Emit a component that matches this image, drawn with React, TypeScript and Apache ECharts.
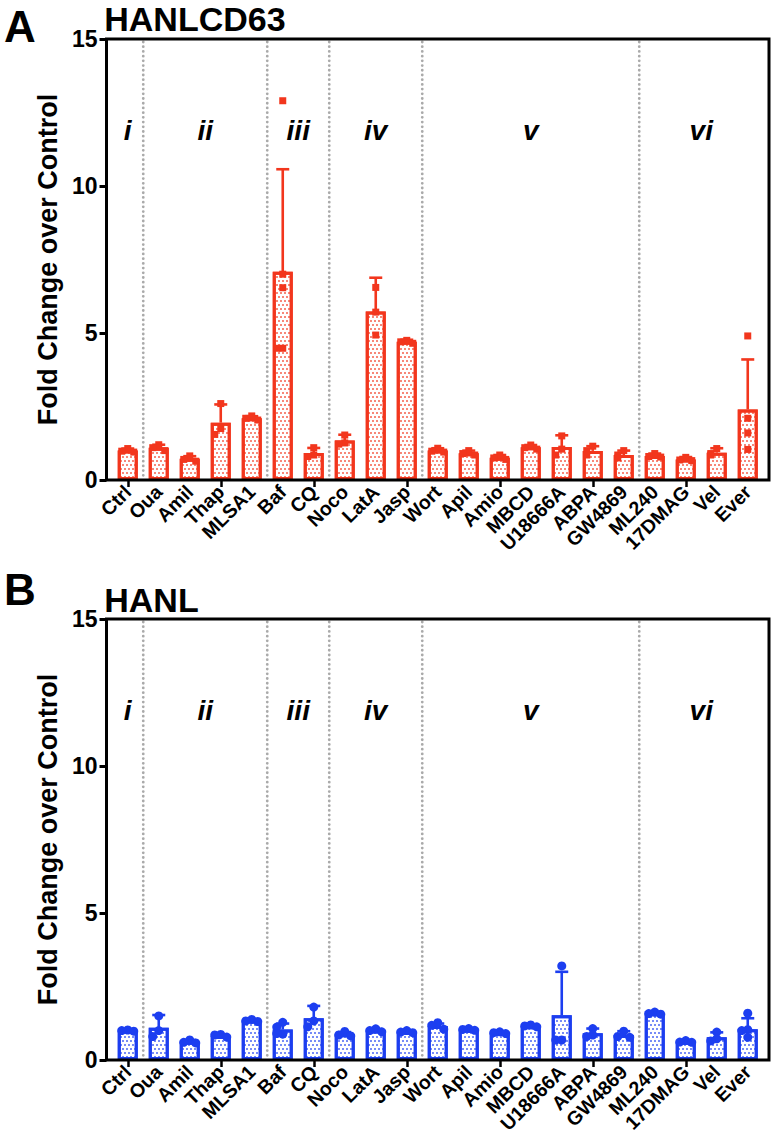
import React, { useEffect, useRef } from 'react';
import * as echarts from 'echarts';

const CATEGORIES = ['Ctrl', 'Oua', 'Amil', 'Thap', 'MLSA1', 'Baf', 'CQ', 'Noco', 'LatA', 'Jasp', 'Wort', 'Apil', 'Amio', 'MBCD', 'U18666A', 'ABPA', 'GW4869', 'ML240', '17DMAG', 'Vel', 'Ever'];
const Y_MIN = 0;
const Y_MAX = 15;
const Y_INTERVAL = 5;

// Panel A: HANLCD63
const MEAN_A = [1.0, 1.1, 0.72, 1.95, 2.1, 7.08, 0.92, 1.34, 5.73, 4.7, 1.0, 0.91, 0.76, 1.11, 1.12, 0.99, 0.85, 0.82, 0.7, 0.93, 2.4];
const SD_A = [0.07, 0.1, 0.09, 0.62, 0.07, 3.49, 0.17, 0.2, 1.15, 0.07, 0.08, 0.09, 0.09, 0.08, 0.4, 0.16, 0.15, 0.08, 0.08, 0.15, 1.7];
const POINTS_A = [
  [1.07, 0.98, 0.95], [1.2, 1.1, 1.0], [0.82, 0.7, 0.64], [2.6, 1.75, 1.55], [2.18, 2.1, 2.04],
  [12.9, 7.0, 6.54, 4.48, 4.48], [1.1, 0.85, 0.8], [1.53, 1.26, 1.22], [6.55, 5.71, 4.93], [4.75, 4.7, 4.65],
  [1.08, 0.98, 0.95], [1.0, 0.9, 0.85], [0.85, 0.75, 0.7], [1.19, 1.1, 1.05], [1.5, 1.05, 0.85],
  [1.15, 1.0, 0.85], [1.0, 0.85, 0.75], [0.9, 0.8, 0.78], [0.77, 0.68, 0.66], [1.07, 0.9, 0.85],
  [4.9, 2.1, 1.6, 1.04],
];

// Panel B: HANL
const MEAN_B = [1.0, 1.1, 0.62, 0.82, 1.34, 1.04, 1.42, 0.88, 1.0, 0.96, 1.16, 1.04, 0.93, 1.16, 1.52, 0.91, 0.85, 1.59, 0.62, 0.77, 1.05];
const SD_B = [0.03, 0.43, 0.06, 0.05, 0.04, 0.2, 0.42, 0.07, 0.05, 0.04, 0.08, 0.03, 0.03, 0.03, 1.48, 0.16, 0.13, 0.03, 0.03, 0.17, 0.37];
const POINTS_B = [
  [1.02, 1.0, 0.98], [1.5, 1.0, 0.8], [0.68, 0.6, 0.58], [0.87, 0.85, 0.78], [1.38, 1.33, 1.31],
  [1.28, 1.12, 0.88, 0.9], [1.8, 1.33, 1.13], [0.97, 0.85, 0.82], [1.06, 1.0, 0.96], [1.0, 0.95, 0.93],
  [1.27, 1.18, 1.05], [1.07, 1.04, 1.01], [0.96, 0.93, 0.9], [1.19, 1.16, 1.13], [3.2, 0.68, 0.68],
  [1.07, 0.85, 0.8], [0.98, 0.8, 0.77], [1.63, 1.58, 1.56], [0.66, 0.61, 0.6], [0.95, 0.72, 0.65],
  [1.59, 1.03, 1.0, 0.77],
];

const GROUP_STARTS = [1, 5, 7, 10, 17];
const GROUP_LABELS = ['i', 'ii', 'iii', 'iv', 'v', 'vi'];
const GROUP_LABEL_POS = [0, 2.5, 5.5, 8, 13, 18.5];
const GROUP_LABEL_Y = 11.9;

const RED = '#f2361d';
const BLUE = '#1c3ef0';
const FONT = "'Liberation Sans', Arial, Helvetica, sans-serif";

// layout
const GRID_LEFT = 112.25;
const GRID_WIDTH = 651;
const FRAME_PAD = 5.75;
const X_LABEL_MARGIN = 8.5;
const PANELS = [
  { top: 39, height: 441, letter: 'A', letterY: 26, title: 'HANLCD63', titleY: 18.5, means: MEAN_A, sds: SD_A, points: POINTS_A, color: RED, symbol: 'rect', symbolSize: 7 },
  { top: 619, height: 441, letter: 'B', letterY: 589, title: 'HANL', titleY: 600, means: MEAN_B, sds: SD_B, points: POINTS_B, color: BLUE, symbol: 'circle', symbolSize: 9 },
];

function pointData(points: number[][]) {
  const out: any[] = [];
  points.forEach((vals, i) => {
    const placed: number[] = [];
    vals.forEach((v) => {
      const k = placed.filter((p) => Math.abs(p - v) < 0.22).length;
      placed.push(v);
      const dx = [0, -6, 6, -12, 12][k] ?? 0;
      out.push({ value: [i, v], symbolOffset: [dx, 0] });
    });
  });
  return out;
}

export default function App() {
  const ref = useRef<HTMLDivElement>(null);
  useEffect(() => {
    if (!ref.current) return;
    const chart = echarts.init(ref.current, null, { renderer: 'svg' });
    const grids: any[] = [];
    const xAxes: any[] = [];
    const yAxes: any[] = [];
    const series: any[] = [];
    const graphics: any[] = [];

    PANELS.forEach((p, gi) => {
      grids.push({ left: GRID_LEFT, width: GRID_WIDTH, top: p.top, height: p.height, containLabel: false });
      xAxes.push({
        type: 'category', gridIndex: gi, data: CATEGORIES,
        axisLine: { show: false },
        axisTick: { show: true, alignWithLabel: true, length: 7, lineStyle: { color: '#000', width: 2.5 } },
        axisLabel: { show: false },
        splitLine: { show: false },
      });
      yAxes.push({
        type: 'value', gridIndex: gi, min: Y_MIN, max: Y_MAX, interval: Y_INTERVAL, offset: FRAME_PAD,
        axisLine: { show: false },
        axisTick: { show: true, length: 7, lineStyle: { color: '#000', width: 3 } },
        axisLabel: { margin: 9, color: '#000', fontSize: 23, fontWeight: 'bold', fontFamily: FONT },
        splitLine: { show: false },
        name: 'Fold Change over Control', nameLocation: 'middle', nameGap: 40,
        nameTextStyle: { color: '#000', fontSize: 27, fontWeight: 'bold', fontFamily: FONT },
      });
      // category labels, rotated 45 degrees
      series.push({
        type: 'custom', xAxisIndex: gi, yAxisIndex: gi, z: 5, silent: true, clip: false,
        data: CATEGORIES.map((_, i) => [i, Y_MIN]),
        encode: { x: 0, y: 1 },
        renderItem: (params: any, api: any) => {
          const c = api.coord([api.value(0), api.value(1)]);
          return {
            type: 'text',
            x: c[0],
            y: c[1] + X_LABEL_MARGIN,
            rotation: Math.PI / 4,
            style: {
              text: CATEGORIES[params.dataIndex],
              font: `bold 19.5px ${FONT}`,
              fill: '#000', align: 'right', verticalAlign: 'middle',
            },
          };
        },
      });
      // group separators
      series.push({
        type: 'custom', xAxisIndex: gi, yAxisIndex: gi, z: 1, silent: true,
        data: GROUP_STARTS.map((b) => [b, 0]),
        encode: { x: 0, y: 1 },
        renderItem: (params: any, api: any) => {
          const b = api.value(0);
          const t = api.coord([b, Y_MAX]);
          const bt = api.coord([b, Y_MIN]);
          const half = api.size([1, 0])[0] / 2;
          const x = t[0] - half;
          return {
            type: 'line',
            shape: { x1: x, y1: t[1] + 3, x2: x, y2: bt[1] },
            style: { stroke: '#aaaaaa', lineWidth: 2.8, lineDash: [0.01, 4.7], lineCap: 'round' },
          };
        },
      });
      // roman numerals
      series.push({
        type: 'custom', xAxisIndex: gi, yAxisIndex: gi, z: 1, silent: true,
        data: GROUP_LABEL_POS.map((pos) => [Math.floor(pos), GROUP_LABEL_Y, pos - Math.floor(pos)]),
        encode: { x: 0, y: 1 },
        renderItem: (params: any, api: any) => {
          const c = api.coord([api.value(0), api.value(1)]);
          const band = api.size([1, 0])[0];
          return {
            type: 'text',
            x: c[0] + api.value(2) * band,
            y: c[1],
            style: {
              text: GROUP_LABELS[params.dataIndex],
              font: `italic bold 28px ${FONT}`,
              fill: '#000', align: 'center', verticalAlign: 'middle',
            },
          };
        },
      });
      // bars
      series.push({
        type: 'bar', xAxisIndex: gi, yAxisIndex: gi, z: 2,
        data: p.means,
        barWidth: 20,
        itemStyle: {
          color: '#ffffff', borderColor: p.color, borderWidth: 3,
          decal: {
            symbol: 'rect', symbolSize: 0.8, color: p.color,
            dashArrayX: [[2, 2], [0, 2, 2, 0]], dashArrayY: [2, 2], rotation: 0,
          },
        },
      });
      // error bars
      series.push({
        type: 'custom', xAxisIndex: gi, yAxisIndex: gi, z: 3,
        data: p.means.map((m, i) => [i, m, m + p.sds[i]]),
        encode: { x: 0, y: [1, 2] },
        renderItem: (params: any, api: any) => {
          const i = api.value(0);
          const p0 = api.coord([i, api.value(1)]);
          const p1 = api.coord([i, api.value(2)]);
          const cap = 6.5;
          return {
            type: 'group',
            children: [
              { type: 'line', shape: { x1: p0[0], y1: p0[1], x2: p1[0], y2: p1[1] }, style: { stroke: p.color, lineWidth: 2.6 } },
              { type: 'line', shape: { x1: p1[0] - cap, y1: p1[1], x2: p1[0] + cap, y2: p1[1] }, style: { stroke: p.color, lineWidth: 2.6 } },
            ],
          };
        },
      });
      // points
      series.push({
        type: 'scatter', xAxisIndex: gi, yAxisIndex: gi, z: 4,
        symbol: p.symbol, symbolSize: p.symbolSize,
        itemStyle: { color: p.color, opacity: 1 },
        data: pointData(p.points),
      });
      // frame
      graphics.push({
        type: 'rect', z: 100, silent: true,
        shape: { x: GRID_LEFT - FRAME_PAD, y: p.top, width: GRID_WIDTH + 2 * FRAME_PAD, height: p.height },
        style: { fill: 'none', stroke: '#000', lineWidth: 3 },
      });
      graphics.push({
        type: 'text', x: 4, y: p.letterY, z: 100,
        style: { text: p.letter, font: `bold 44px ${FONT}`, fill: '#000', textAlign: 'left', textVerticalAlign: 'middle', align: 'left', verticalAlign: 'middle' },
      });
      graphics.push({
        type: 'text', x: GRID_LEFT - 8, y: p.titleY, z: 100,
        style: { text: p.title, font: `bold 34px ${FONT}`, fill: '#000', textAlign: 'left', textVerticalAlign: 'middle', align: 'left', verticalAlign: 'middle' },
      });
    });

    chart.setOption({
      animation: false,
      backgroundColor: '#ffffff',
      grid: grids,
      xAxis: xAxes,
      yAxis: yAxes,
      series,
      graphic: graphics,
    });
    return () => chart.dispose();
  }, []);
  return <div ref={ref} style={{ position: 'absolute', left: 0, top: 0, width: 775, height: 1144 }} />;
}
